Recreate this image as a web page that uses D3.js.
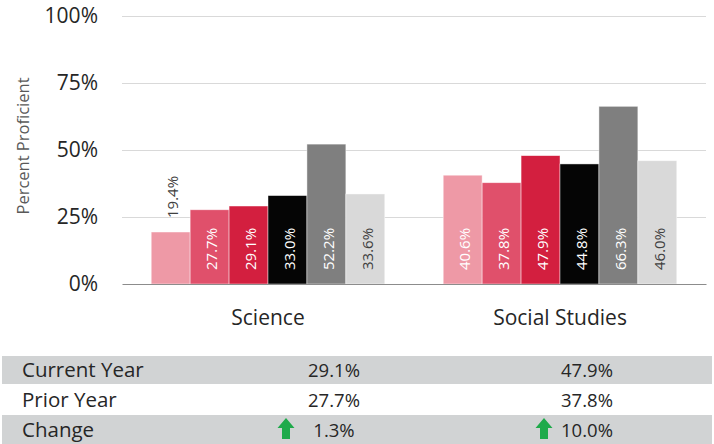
<!DOCTYPE html>
<html>
<head>
<meta charset="utf-8">
<script src="https://cdn.jsdelivr.net/npm/d3@7"></script>
<style>
  html, body { margin: 0; padding: 0; background: #fff; }
  svg { display: block; font-family: "Open Sans", "Noto Sans", sans-serif; }
</style>
</head>
<body>
<svg id="chart" width="714" height="444"></svg>
<script>
// ---- data ----
const subjects = ["Science", "Social Studies"];
const seriesNames = ["Series 1", "Series 2", "Series 3", "Series 4", "Series 5", "Series 6"];
const scienceValues = [19.4, 27.7, 29.1, 33.0, 52.2, 33.6];
const socialStudiesValues = [40.6, 37.8, 47.9, 44.8, 66.3, 46.0];
const yTicks = [0, 25, 50, 75, 100];
const rowLabels = ["Current Year", "Prior Year", "Change"];
const currentYear = ["29.1%", "47.9%"];
const priorYear = ["27.7%", "37.8%"];
const change = ["1.3%", "10.0%"];
const changeUp = [true, true];

const seriesColors = ["#EE99A6", "#E0506B", "#D31F3F", "#050505", "#7F7F7F", "#D9D9D9"];
const labelColors = ["#ffffff", "#ffffff", "#ffffff", "#ffffff", "#ffffff", "#404040"];

const valuesBySubject = [scienceValues, socialStudiesValues];

const svg = d3.select("#chart");
const plot = { left: 122, right: 706, top: 16, bottom: 284 };

const x0 = d3.scaleBand().domain(subjects).range([plot.left, plot.right])
  .paddingInner(0.2).paddingOuter(0.1);
const x1 = d3.scaleBand().domain(seriesNames).range([0, x0.bandwidth()]).padding(0);
const y = d3.scaleLinear().domain([0, 100]).range([plot.bottom, plot.top]);

// gridlines + y ticks
const yAxis = svg.append("g")
  .attr("transform", `translate(${plot.left},0)`)
  .call(d3.axisLeft(y).tickValues(yTicks).tickSize(-(plot.right - plot.left))
    .tickPadding(24).tickFormat(d => d + "%"));
yAxis.select(".domain").remove();
yAxis.selectAll(".tick line").attr("stroke", "#D9D9D9").attr("stroke-width", 1);
yAxis.selectAll(".tick text").attr("font-size", 21).attr("fill", "#262626")
  .attr("font-family", '"Open Sans", sans-serif');
yAxis.selectAll(".tick").filter(d => d === 0).select("line").remove();

// y title
svg.append("text")
  .attr("transform", "translate(22,146) rotate(-90)")
  .attr("text-anchor", "middle").attr("dominant-baseline", "central")
  .attr("font-size", 16.5).attr("fill", "#595959")
  .text("Percent Proficient");

// bars
const groups = svg.append("g").selectAll("g")
  .data(subjects).join("g")
  .attr("transform", d => `translate(${x0(d)},0)`);

const barData = (s, i) => seriesNames.map((n, j) => ({ subject: s, series: n, idx: j, value: valuesBySubject[i][j] }));

groups.selectAll("rect")
  .data((s, i) => barData(s, i)).join("rect")
  .attr("x", d => x1(d.series))
  .attr("y", d => y(d.value))
  .attr("width", x1.bandwidth())
  .attr("height", d => y(0) - y(d.value))
  .attr("fill", d => seriesColors[d.idx])
  .attr("stroke", "rgba(255,255,255,0.6)")
  .attr("stroke-width", 0.75);

// data labels
const pad = 14;
groups.selectAll("text.lbl")
  .data((s, i) => barData(s, i)).join("text")
  .attr("class", "lbl")
  .attr("font-size", 15)
  .attr("text-anchor", "start")
  .attr("dominant-baseline", "central")
  .text(d => d.value.toFixed(1) + "%")
  .each(function (d) {
    const len = this.getComputedTextLength();
    const h = y(0) - y(d.value);
    const cx = x1(d.series) + x1.bandwidth() / 2 + 1.5;
    let yy, fill;
    if (h >= len + 2 * pad) {
      yy = y(0) - pad;
      fill = labelColors[d.idx];
    } else {
      yy = y(d.value) - pad;
      fill = "#404040";
    }
    d3.select(this).attr("transform", `translate(${cx},${yy}) rotate(-90)`).attr("fill", fill);
  });

// x axis
const xAxis = svg.append("g")
  .attr("transform", `translate(0,${plot.bottom})`)
  .call(d3.axisBottom(x0).tickSize(0).tickSizeOuter(0));
xAxis.select(".domain").attr("stroke", "#8C8C8C").attr("stroke-width", 1.2);
xAxis.selectAll(".tick text").attr("font-size", 21).attr("fill", "#262626")
  .attr("font-family", '"Open Sans", sans-serif')
  .attr("y", 41).attr("dy", 0);

// table
const rowTop = [356, 384, 415];
const rowBottom = [384, 415, 444];
const rowFill = ["#D1D3D4", "#ffffff", "#D1D3D4"];
const colCenters = [334, 587];
const arrowX = [286, 544];
const rowValues = [currentYear, priorYear, change];

const table = svg.append("g");
rowLabels.forEach((lab, r) => {
  table.append("rect")
    .attr("x", 2).attr("y", rowTop[r])
    .attr("width", 710).attr("height", rowBottom[r] - rowTop[r])
    .attr("fill", rowFill[r]);
  const mid = (rowTop[r] + rowBottom[r]) / 2;
  table.append("text")
    .attr("x", 22).attr("y", mid + 7)
    .attr("font-size", 20.5).attr("fill", "#262626")
    .text(lab);
  rowValues[r].forEach((v, c) => {
    table.append("text")
      .attr("x", colCenters[c]).attr("y", mid + 7)
      .attr("text-anchor", "middle")
      .attr("font-size", 18.5).attr("fill", "#262626")
      .text(v);
  });
});

// change arrows
changeUp.forEach((up, c) => {
  const ax = arrowX[c], top = 418, bot = 439, headB = 428, hw = 8.5, sw = 4;
  const p = up
    ? `M${ax},${top} L${ax + hw},${headB} L${ax + sw},${headB} L${ax + sw},${bot} L${ax - sw},${bot} L${ax - sw},${headB} L${ax - hw},${headB} Z`
    : `M${ax},${bot} L${ax + hw},${bot - 10} L${ax + sw},${bot - 10} L${ax + sw},${top} L${ax - sw},${top} L${ax - sw},${bot - 10} L${ax - hw},${bot - 10} Z`;
  table.append("path").attr("d", p).attr("fill", up ? "#1FAA4B" : "#C00000");
});
</script>
</body>
</html>
